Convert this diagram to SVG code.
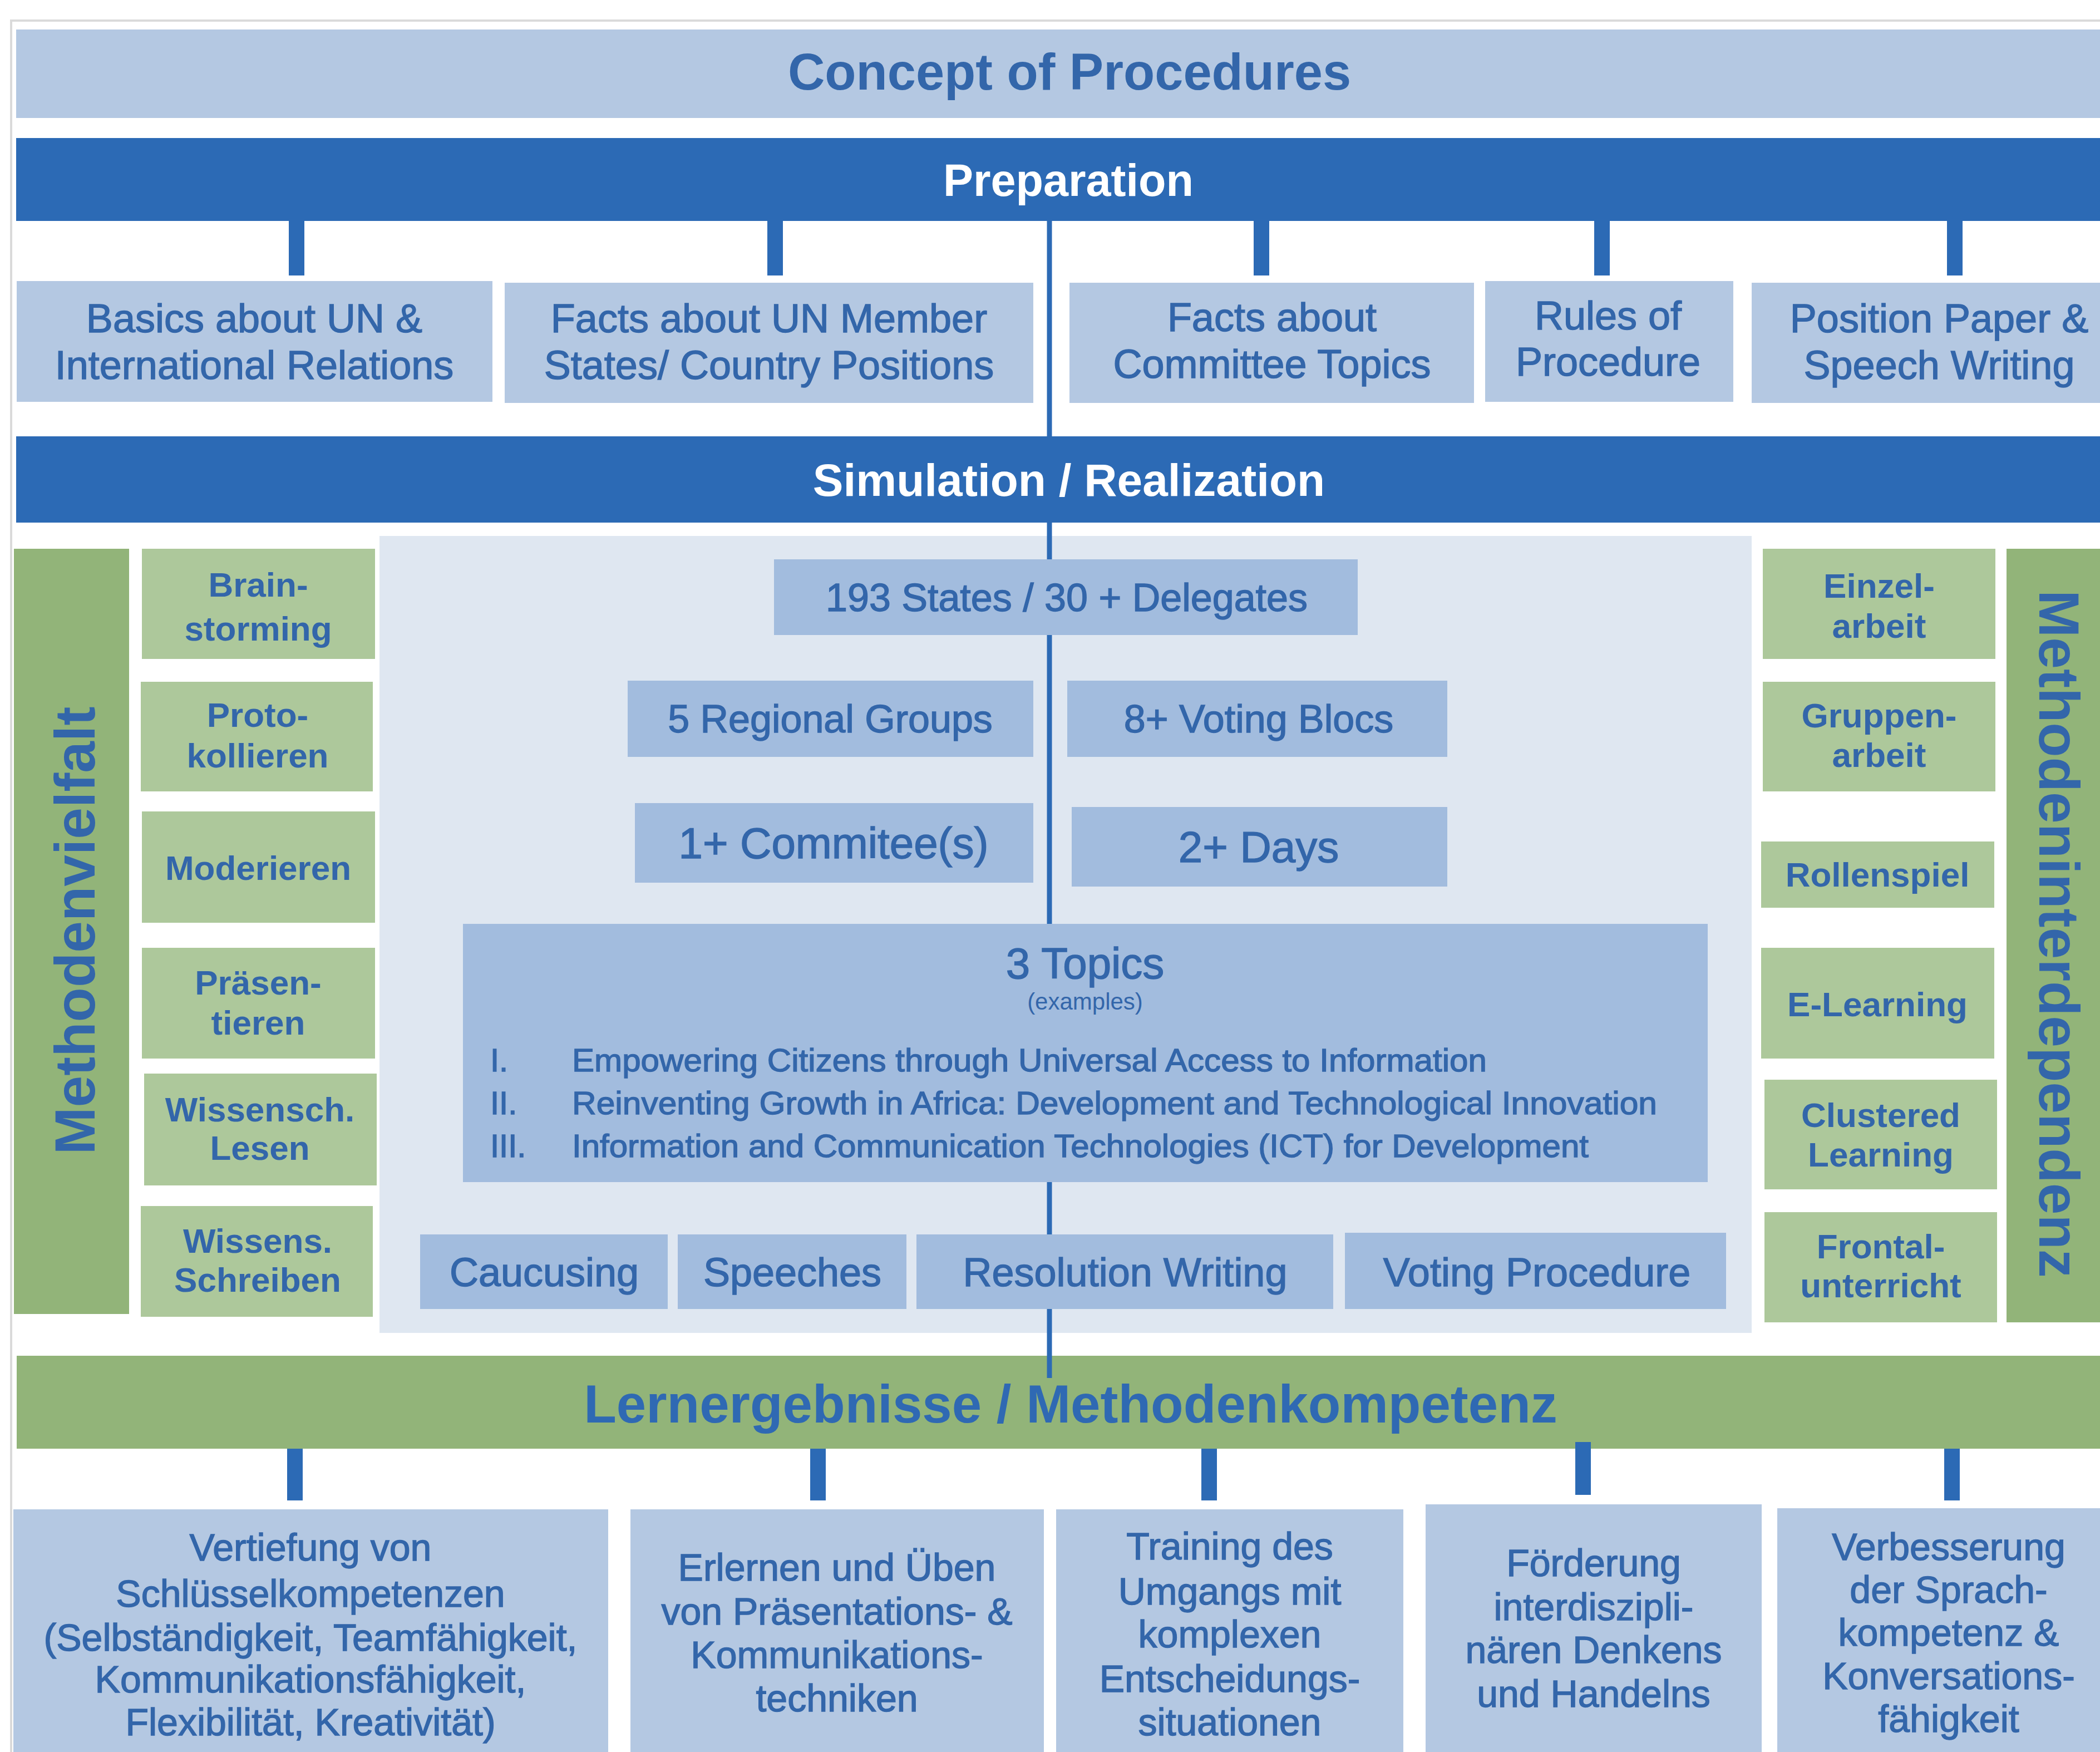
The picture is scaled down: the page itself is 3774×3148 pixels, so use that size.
<svg xmlns="http://www.w3.org/2000/svg" width="3774" height="3148" viewBox="0 0 3774 3148">
  <style>
    .pale { fill: #b4c8e2; }
    .dark { fill: #2c6ab5; }
    .panel { fill: #dfe7f1; }
    .mid { fill: #a2bcde; }
    .gbar { fill: #92b479; }
    .gbox { fill: #adc89b; }
    text { font-family: "Liberation Sans", Arial, sans-serif; fill: #3366aa; text-anchor: middle; }
    .reg { stroke: #3366aa; stroke-width: 1.4; }
    .bold { font-weight: bold; }
    .white { fill: #ffffff; }
    .prep { font-size: 72px; }
    .res { font-size: 68px; }
    .meth { font-size: 62px; font-weight: bold; }
    .conn { stroke: #2c6ab5; stroke-width: 28; }
    .spine { stroke: #2c6ab5; stroke-width: 9; }
  </style>

  <rect x="0" y="0" width="3774" height="3148" fill="#ffffff"/>
  <!-- page frame -->
  <path d="M20 3148 V37 H3774" fill="none" stroke="#dadada" stroke-width="4"/>

  <!-- header bars -->
  <g id="title">
    <rect class="pale" x="29" y="53" width="3745" height="159"/>
    <text class="bold" x="1922" y="161" font-size="92">Concept of Procedures</text>
  </g>
  <g id="preparation">
    <rect class="dark" x="29" y="248" width="3745" height="149"/>
    <text class="bold white" x="1920" y="352" font-size="81">Preparation</text>
  </g>
  <g id="simulation">
    <rect class="dark" x="29" y="784" width="3745" height="155"/>
    <text class="bold white" x="1921" y="891" font-size="82">Simulation / Realization</text>
  </g>

  <!-- central working area -->
  <rect id="sim-panel" class="panel" x="682" y="963" width="2466" height="1432"/>

  <g id="lernergebnisse">
    <rect class="gbar" x="30" y="2436" width="3744" height="167"/>
    <text class="bold" x="1924" y="2556" font-size="96" style="fill:#2f69b3">Lernergebnisse / Methodenkompetenz</text>
  </g>

  <!-- side bars -->
  <g id="methodenvielfalt">
    <rect class="gbar" x="25" y="986" width="207" height="1375"/>
    <text class="bold" transform="translate(170 1672) rotate(-90)" font-size="102">Methodenvielfalt</text>
  </g>
  <g id="methodeninterdependenz">
    <rect class="gbar" x="3606" y="986" width="168" height="1390"/>
    <text class="bold" transform="translate(3665 1678) rotate(90)" font-size="102">Methodeninterdependenz</text>
  </g>

  <!-- connectors -->
  <g id="connectors">
    <line class="spine" x1="1886" y1="397" x2="1886" y2="2476"/>
    <line class="conn" x1="533" y1="397" x2="533" y2="495"/>
    <line class="conn" x1="1393" y1="397" x2="1393" y2="495"/>
    <line class="conn" x1="2267" y1="397" x2="2267" y2="495"/>
    <line class="conn" x1="2879" y1="397" x2="2879" y2="495"/>
    <line class="conn" x1="3513" y1="397" x2="3513" y2="495"/>
    <line class="conn" x1="530" y1="2603" x2="530" y2="2696"/>
    <line class="conn" x1="1470" y1="2603" x2="1470" y2="2696"/>
    <line class="conn" x1="2173" y1="2603" x2="2173" y2="2696"/>
    <line class="conn" x1="2845" y1="2591" x2="2845" y2="2686"/>
    <line class="conn" x1="3508" y1="2603" x2="3508" y2="2696"/>
  </g>

  <!-- preparation topics -->
  <g id="prep-basics">
    <rect class="pale" x="30" y="505" width="855" height="217"/>
    <text class="prep reg" x="457" y="597">Basics about UN &amp;</text>
    <text class="prep reg" x="457" y="681">International Relations</text>
  </g>
  <g id="prep-facts-states">
    <rect class="pale" x="907" y="508" width="950" height="216"/>
    <text class="prep reg" x="1382" y="597">Facts about UN  Member</text>
    <text class="prep reg" x="1382" y="681">States/ Country Positions</text>
  </g>
  <g id="prep-facts-topics">
    <rect class="pale" x="1922" y="508" width="727" height="216"/>
    <text class="prep reg" x="2286" y="595">Facts about</text>
    <text class="prep reg" x="2286" y="679">Committee Topics</text>
  </g>
  <g id="prep-rules">
    <rect class="pale" x="2669" y="505" width="446" height="217"/>
    <text class="prep reg" x="2890" y="592">Rules of</text>
    <text class="prep reg" x="2890" y="675">Procedure</text>
  </g>
  <g id="prep-position">
    <rect class="pale" x="3148" y="508" width="626" height="216"/>
    <text class="prep reg" x="3485" y="597">Position Paper &amp;</text>
    <text class="prep reg" x="3485" y="681">Speech Writing</text>
  </g>

  <!-- simulation facts -->
  <g id="sim-states">
    <rect class="mid" x="1391" y="1005" width="1049" height="136"/>
    <text class="reg" x="1917" y="1098" font-size="70">193 States / 30 + Delegates</text>
  </g>
  <g id="sim-regional">
    <rect class="mid" x="1128" y="1223" width="729" height="137"/>
    <text class="reg" x="1492" y="1316" font-size="70">5 Regional  Groups</text>
  </g>
  <g id="sim-blocs">
    <rect class="mid" x="1918" y="1223" width="683" height="137"/>
    <text class="reg" x="2262" y="1316" font-size="70">8+ Voting Blocs</text>
  </g>
  <g id="sim-committees">
    <rect class="mid" x="1141" y="1443" width="716" height="143"/>
    <text class="reg" x="1498" y="1542" font-size="78">1+ Commitee(s)</text>
  </g>
  <g id="sim-days">
    <rect class="mid" x="1926" y="1450" width="675" height="143"/>
    <text class="reg" x="2262" y="1549" font-size="78">2+ Days</text>
  </g>
  <g id="sim-topics">
    <rect class="mid" x="832" y="1660" width="2237" height="464"/>
    <text class="reg" x="1950" y="1758" font-size="78">3 Topics</text>
    <text x="1950" y="1814" font-size="42">(examples)</text>
    <g font-size="58">
      <text class="reg" x="881" y="1925" style="text-anchor:start">I.</text>
      <text class="reg" x="1028" y="1925" style="text-anchor:start" textLength="1644" lengthAdjust="spacingAndGlyphs">Empowering Citizens through Universal Access to Information</text>
      <text class="reg" x="881" y="2002" style="text-anchor:start">II.</text>
      <text class="reg" x="1028" y="2002" style="text-anchor:start" textLength="1950" lengthAdjust="spacingAndGlyphs">Reinventing Growth in Africa: Development and Technological Innovation</text>
      <text class="reg" x="881" y="2079" style="text-anchor:start">III.</text>
      <text class="reg" x="1028" y="2079" style="text-anchor:start" textLength="1827" lengthAdjust="spacingAndGlyphs">Information and Communication Technologies (ICT) for Development</text>
    </g>
  </g>
  <g id="sim-caucusing">
    <rect class="mid" x="755" y="2218" width="445" height="134"/>
    <text class="reg" x="978" y="2311" font-size="72">Caucusing</text>
  </g>
  <g id="sim-speeches">
    <rect class="mid" x="1218" y="2218" width="411" height="134"/>
    <text class="reg" x="1424" y="2311" font-size="72">Speeches</text>
  </g>
  <g id="sim-resolution">
    <rect class="mid" x="1647" y="2218" width="749" height="134"/>
    <text class="reg" x="2022" y="2311" font-size="72">Resolution Writing</text>
  </g>
  <g id="sim-voting">
    <rect class="mid" x="2417" y="2215" width="685" height="137"/>
    <text class="reg" x="2762" y="2311" font-size="72">Voting Procedure</text>
  </g>

  <!-- methods, left column -->
  <g id="m-brainstorming">
    <rect class="gbox" x="255" y="986" width="419" height="198"/>
    <text class="meth" x="464" y="1072">Brain-</text>
    <text class="meth" x="464" y="1151">storming</text>
  </g>
  <g id="m-protokollieren">
    <rect class="gbox" x="253" y="1225" width="417" height="197"/>
    <text class="meth" x="463" y="1306">Proto-</text>
    <text class="meth" x="463" y="1379">kollieren</text>
  </g>
  <g id="m-moderieren">
    <rect class="gbox" x="255" y="1458" width="419" height="200"/>
    <text class="meth" x="464" y="1581" font-size="57">Moderieren</text>
  </g>
  <g id="m-praesentieren">
    <rect class="gbox" x="255" y="1703" width="419" height="199"/>
    <text class="meth" x="464" y="1787">Präsen-</text>
    <text class="meth" x="464" y="1859">tieren</text>
  </g>
  <g id="m-lesen">
    <rect class="gbox" x="259" y="1929" width="418" height="201"/>
    <text class="meth" x="467" y="2015" font-size="56">Wissensch.</text>
    <text class="meth" x="467" y="2084" font-size="56">Lesen</text>
  </g>
  <g id="m-schreiben">
    <rect class="gbox" x="253" y="2167" width="417" height="199"/>
    <text class="meth" x="463" y="2251" font-size="56">Wissens.</text>
    <text class="meth" x="463" y="2321" font-size="56">Schreiben</text>
  </g>

  <!-- methods, right column -->
  <g id="m-einzelarbeit">
    <rect class="gbox" x="3168" y="986" width="418" height="198"/>
    <text class="meth" x="3377" y="1074">Einzel-</text>
    <text class="meth" x="3377" y="1146">arbeit</text>
  </g>
  <g id="m-gruppenarbeit">
    <rect class="gbox" x="3168" y="1225" width="418" height="197"/>
    <text class="meth" x="3377" y="1307">Gruppen-</text>
    <text class="meth" x="3377" y="1378">arbeit</text>
  </g>
  <g id="m-rollenspiel">
    <rect class="gbox" x="3165" y="1512" width="419" height="119"/>
    <text class="meth" x="3374" y="1593" font-size="56">Rollenspiel</text>
  </g>
  <g id="m-elearning">
    <rect class="gbox" x="3165" y="1703" width="419" height="199"/>
    <text class="meth" x="3374" y="1826">E-Learning</text>
  </g>
  <g id="m-clustered">
    <rect class="gbox" x="3171" y="1940" width="418" height="197"/>
    <text class="meth" x="3380" y="2025">Clustered</text>
    <text class="meth" x="3380" y="2096">Learning</text>
  </g>
  <g id="m-frontal">
    <rect class="gbox" x="3171" y="2178" width="418" height="198"/>
    <text class="meth" x="3380" y="2261">Frontal-</text>
    <text class="meth" x="3380" y="2331">unterricht</text>
  </g>

  <!-- learning outcomes -->
  <g id="out-schluessel">
    <rect class="pale" x="24" y="2712" width="1069" height="436"/>
    <text class="res reg" x="558" y="2804">Vertiefung von</text>
    <text class="res reg" x="558" y="2887">Schlüsselkompetenzen</text>
    <text class="res reg" x="558" y="2966">(Selbständigkeit, Teamfähigkeit,</text>
    <text class="res reg" x="558" y="3041">Kommunikationsfähigkeit,</text>
    <text class="res reg" x="558" y="3118">Flexibilität, Kreativität)</text>
  </g>
  <g id="out-praesentation">
    <rect class="pale" x="1133" y="2712" width="743" height="436"/>
    <text class="res reg" x="1504" y="2840">Erlernen und Üben</text>
    <text class="res reg" x="1504" y="2919">von Präsentations- &amp;</text>
    <text class="res reg" x="1504" y="2997">Kommunikations-</text>
    <text class="res reg" x="1504" y="3075">techniken</text>
  </g>
  <g id="out-entscheidung">
    <rect class="pale" x="1898" y="2712" width="624" height="436"/>
    <text class="res reg" x="2210" y="2802">Training des</text>
    <text class="res reg" x="2210" y="2883">Umgangs mit</text>
    <text class="res reg" x="2210" y="2960">komplexen</text>
    <text class="res reg" x="2210" y="3040">Entscheidungs-</text>
    <text class="res reg" x="2210" y="3118">situationen</text>
  </g>
  <g id="out-interdisziplinaer">
    <rect class="pale" x="2562" y="2703" width="604" height="445"/>
    <text class="res reg" x="2864" y="2832">Förderung</text>
    <text class="res reg" x="2864" y="2911">interdiszipli-</text>
    <text class="res reg" x="2864" y="2988">nären Denkens</text>
    <text class="res reg" x="2864" y="3067">und Handelns</text>
  </g>
  <g id="out-sprache">
    <rect class="pale" x="3194" y="2710" width="580" height="438"/>
    <text class="res reg" x="3502" y="2803">Verbesserung</text>
    <text class="res reg" x="3502" y="2880">der Sprach-</text>
    <text class="res reg" x="3502" y="2957">kompetenz &amp;</text>
    <text class="res reg" x="3502" y="3035">Konversations-</text>
    <text class="res reg" x="3502" y="3112">fähigkeit</text>
  </g>
</svg>
